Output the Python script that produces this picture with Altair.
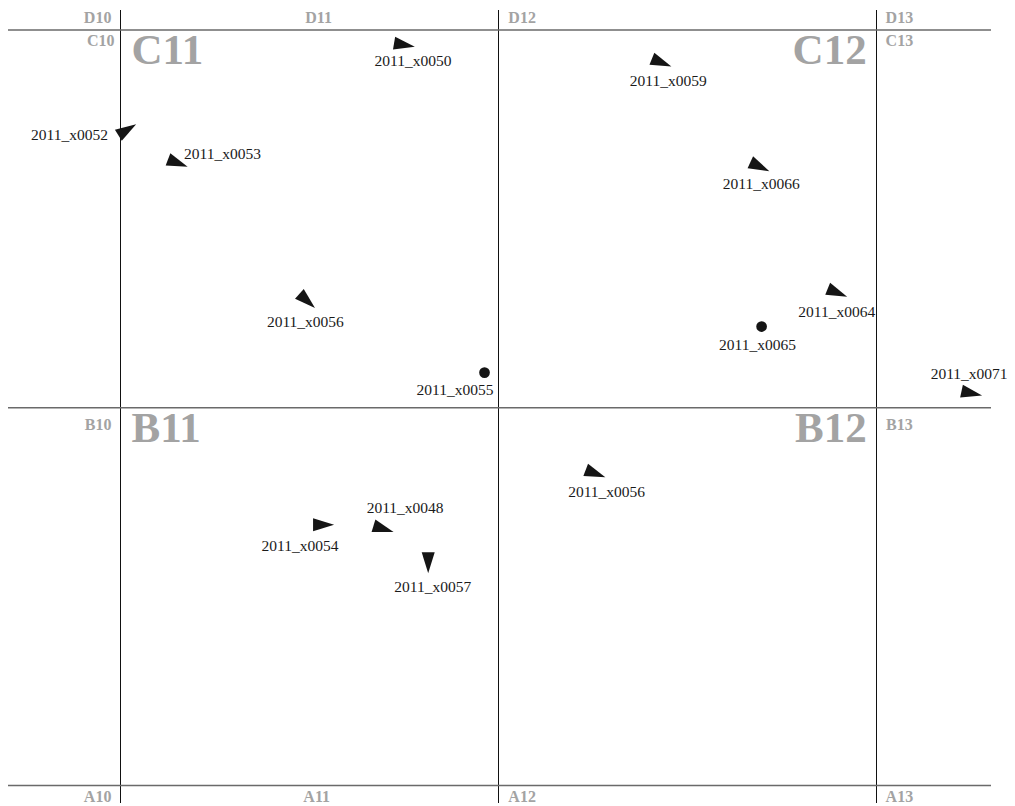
import altair as alt
import pandas as pd

# ---- grid (map sheet) boundaries, in map units ----
col_lines = [11, 12, 13]
row_lines = [1, 2, 3]

# ---- stations ----
names = ["2011_x0050", "2011_x0052", "2011_x0053", "2011_x0056", "2011_x0055",
         "2011_x0059", "2011_x0066", "2011_x0064", "2011_x0065", "2011_x0071",
         "2011_x0056", "2011_x0054", "2011_x0048", "2011_x0057"]
kind = ["dir", "dir", "dir", "dir", "dot", "dir", "dir", "dir", "dot", "dir",
        "dir", "dir", "dir", "dir"]
pos_x = [11.742, 11.010, 11.143, 11.487, 11.963, 12.423, 12.683, 12.888, 12.696, 13.243,
         12.248, 11.528, 11.687, 11.814]
pos_y = [2.962, 2.731, 2.651, 2.289, 2.093, 2.917, 2.642, 2.308, 2.215, 2.040,
         1.829, 1.690, 1.682, 1.599]
heading = [9.5, 328, 21, 42, 0, 22, 25, 22, 0, 12, 21, 0, 17, 90]
label_x = [11.774, 10.865, 11.270, 11.489, 11.885, 12.449, 12.695, 12.895, 12.685, 13.245,
           12.286, 11.475, 11.753, 11.826]
label_y = [2.905, 2.709, 2.658, 2.213, 2.034, 2.852, 2.578, 2.241, 2.153, 2.076,
           1.764, 1.622, 1.721, 1.513]

# ---- sheet names ----
sheet_small = ["D10", "D11", "D12", "D13", "C10", "C13", "B10", "B13", "A10", "A11", "A12", "A13"]
sheet_small_x = [10.976, 11.524, 12.026, 13.024, 10.984, 13.024, 10.976, 13.025, 10.976, 11.519, 12.026, 13.024]
sheet_small_y = [3.0185, 3.0185, 3.0185, 3.0185, 2.9577, 2.9577, 1.9411, 1.9411, 0.9563, 0.9563, 0.9563, 0.9563]
sheet_small_anchor = ["right", "center", "left", "left", "right", "left", "right", "left",
                      "right", "center", "left", "left"]
sheet_big = ["C11", "C12", "B11", "B12"]
sheet_big_x = [11.029, 12.974, 11.029, 12.974]
sheet_big_y = [2.910, 2.910, 1.9093, 1.9093]
sheet_big_anchor = ["left", "right", "left", "right"]

X_DOM = [10.70238, 13.30288]
Y_DOM = [0.9537, 3.0529]

stations = pd.DataFrame({"name": names, "kind": kind, "x": pos_x, "y": pos_y,
                         "heading": heading, "lx": label_x, "ly": label_y})
small_df = pd.DataFrame({"t": sheet_small, "x": sheet_small_x, "y": sheet_small_y,
                         "a": sheet_small_anchor})
big_df = pd.DataFrame({"t": sheet_big, "x": sheet_big_x, "y": sheet_big_y, "a": sheet_big_anchor})

xs = alt.Scale(domain=X_DOM, nice=False, zero=False)
ys = alt.Scale(domain=Y_DOM, nice=False, zero=False)

vrules = alt.Chart(pd.DataFrame({"x": col_lines})).mark_rule(
    color="#111111", strokeWidth=1).encode(x=alt.X("x:Q", scale=xs, axis=None))
hrules = alt.Chart(pd.DataFrame({"y": row_lines})).mark_rule(
    color="#6a6a6a", strokeWidth=1.6).encode(y=alt.Y("y:Q", scale=ys, axis=None))

arrow_path = "M-0.667,-0.62 L1.333,0 L-0.667,0.62 Z"
arrows = alt.Chart(stations).transform_filter(alt.datum.kind == "dir").mark_point(
    shape=arrow_path, filled=True, color="#151515", opacity=1, size=441, strokeWidth=0
).encode(
    x=alt.X("x:Q", scale=xs, axis=None),
    y=alt.Y("y:Q", scale=ys, axis=None),
    angle=alt.Angle("heading:Q", scale=None),
)
dots = alt.Chart(stations).transform_filter(alt.datum.kind == "dot").mark_circle(
    color="#151515", opacity=1, size=115
).encode(
    x=alt.X("x:Q", scale=xs, axis=None),
    y=alt.Y("y:Q", scale=ys, axis=None),
)
labels = alt.Chart(stations).mark_text(
    font="Liberation Serif", fontSize=15.5, color="#1a1a1a", align="center", baseline="alphabetic"
).encode(
    x=alt.X("lx:Q", scale=xs, axis=None),
    y=alt.Y("ly:Q", scale=ys, axis=None),
    text="name:N",
)

layers = [vrules, hrules, arrows, dots, labels]
for anchor in ["left", "center", "right"]:
    layers.append(
        alt.Chart(small_df).transform_filter(alt.datum.a == anchor).mark_text(
            font="Liberation Serif", fontSize=16, fontWeight="bold", color="#a3a3a3",
            align=anchor, baseline="alphabetic"
        ).encode(x=alt.X("x:Q", scale=xs, axis=None), y=alt.Y("y:Q", scale=ys, axis=None), text="t:N")
    )
for anchor in ["left", "right"]:
    layers.append(
        alt.Chart(big_df).transform_filter(alt.datum.a == anchor).mark_text(
            font="Liberation Serif", fontSize=43, fontWeight="bold", color="#a3a3a3",
            align=anchor, baseline="alphabetic"
        ).encode(x=alt.X("x:Q", scale=xs, axis=None), y=alt.Y("y:Q", scale=ys, axis=None), text="t:N")
    )

chart = alt.layer(*layers).properties(
    width=983, height=793,
    padding={"left": 0, "top": 2, "right": 16, "bottom": 3},
    autosize=alt.AutoSizeParams(type="none"),
    background="white",
).configure_view(stroke=None, strokeWidth=0)

chart.save("out.html", embed_options={"renderer": "svg", "actions": False})
